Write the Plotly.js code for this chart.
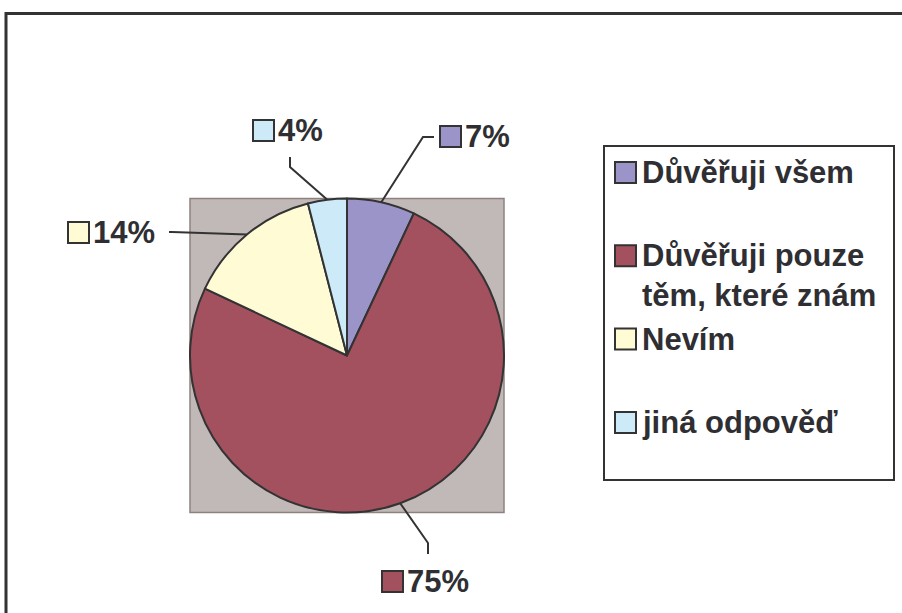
<!DOCTYPE html>
<html><head><meta charset="utf-8">
<script src="https://cdn.plot.ly/plotly-3.0.1.min.js"></script>
<style>html,body{margin:0;padding:0;background:#fff}#chart{width:902px;height:613px}</style>
</head><body><div id="chart"></div>
<script>
// ---- data ----
const categories = ["Důvěřuji všem", "Důvěřuji pouze těm, které znám", "Nevím", "jiná odpověď"];
const legendLabels = ["Důvěřuji všem", "Důvěřuji pouze<br>těm, které znám", "Nevím", "jiná odpověď"];
const values = [7, 75, 14, 4];
const percentLabels = values.map(v => v + "%");

// ---- style / layout ----
const colors = ["#9b94c8", "#a3505f", "#fffbd5", "#cdeaf8"];
const W = 902, H = 613;
const FONT = "Liberation Sans, Arial, Helvetica, sans-serif";
const TXT = "#2f2f33";
const FS = 31;
const px = x => x / W, py = y => 1 - y / H;
const pieBox = {x0: 190, x1: 504, y0: 198.5, y1: 512.5};
const cx = (pieBox.x0 + pieBox.x1) / 2, cy = (pieBox.y0 + pieBox.y1) / 2, r = (pieBox.x1 - pieBox.x0) / 2;

// label callout placement (square left x, text baseline y, leader knee & end)
const labelPlacement = [
  {sq: [440, 147], knee: [423, 137], end: [434, 137]},
  {sq: [382, 592], knee: [428, 543], end: [428, 554]},
  {sq: [68, 243],  knee: [172, 232], end: [169, 232]},
  {sq: [253, 141], knee: [290, 167], end: [290, 157]}
];
const SQ = 21;
const legendBox = {x0: 604, y0: 146, x1: 894, y1: 480};
const legendFirstBaseline = 183, legendStep = 83.3, legendSqX = 615, legendTextX = 642;

const shapes = [];
const annotations = [];

// outer frame (only top & left visible)
shapes.push({type: 'rect', xref: 'paper', yref: 'paper', x0: px(6), x1: px(915), y0: py(13.5), y1: py(630),
  line: {color: '#333333', width: 3}, fillcolor: 'rgba(0,0,0,0)', layer: 'below'});
// plot area behind pie
shapes.push({type: 'rect', xref: 'paper', yref: 'paper', x0: px(pieBox.x0), x1: px(pieBox.x1), y0: py(pieBox.y1), y1: py(pieBox.y0),
  line: {color: '#8e8280', width: 1.5}, fillcolor: '#c1b9b7', layer: 'below'});

// leader lines & data labels computed from slice angles
const total = values.reduce((a, b) => a + b, 0);
let cum = 0;
values.forEach((v, i) => {
  const mid = (cum + v / 2) / total * 2 * Math.PI;
  cum += v;
  const ex = cx + r * Math.sin(mid), ey = cy - r * Math.cos(mid);
  const p = labelPlacement[i];
  shapes.push({type: 'path', xref: 'paper', yref: 'paper', layer: 'above',
    path: `M${px(ex)},${py(ey)} L${px(p.knee[0])},${py(p.knee[1])} L${px(p.end[0])},${py(p.end[1])}`,
    line: {color: '#333333', width: 2}});
  shapes.push({type: 'rect', xref: 'paper', yref: 'paper', layer: 'above',
    x0: px(p.sq[0]), x1: px(p.sq[0] + SQ), y0: py(p.sq[1]), y1: py(p.sq[1] - SQ),
    fillcolor: colors[i], line: {color: '#333333', width: 2}});
  annotations.push({xref: 'paper', yref: 'paper', x: px(p.sq[0] + SQ + 4), y: py(p.sq[1] - 0.905 * FS),
    xanchor: 'left', yanchor: 'top', showarrow: false, borderpad: 0, borderwidth: 0,
    text: percentLabels[i], font: {family: FONT, size: FS, color: TXT, weight: 700}});
});

// custom legend
shapes.push({type: 'rect', xref: 'paper', yref: 'paper', x0: px(legendBox.x0), x1: px(legendBox.x1), y0: py(legendBox.y1), y1: py(legendBox.y0),
  line: {color: '#333333', width: 2}, fillcolor: '#ffffff', layer: 'below'});
legendLabels.forEach((lab, i) => {
  const base = legendFirstBaseline + i * legendStep;
  shapes.push({type: 'rect', xref: 'paper', yref: 'paper', layer: 'above',
    x0: px(legendSqX), x1: px(legendSqX + SQ), y0: py(base), y1: py(base - SQ),
    fillcolor: colors[i], line: {color: '#333333', width: 2}});
  annotations.push({xref: 'paper', yref: 'paper', x: px(legendTextX), y: py(base - 0.905 * FS),
    xanchor: 'left', yanchor: 'top', align: 'left', showarrow: false, borderpad: 0, borderwidth: 0,
    text: lab, font: {family: FONT, size: FS, color: TXT, weight: 700}});
});

const trace = {
  type: 'pie', values: values, labels: categories, sort: false, direction: 'clockwise', rotation: 0,
  marker: {colors: colors, line: {color: '#333333', width: 2}},
  textinfo: 'none', hoverinfo: 'label+percent', showlegend: false,
  domain: {x: [px(pieBox.x0), px(pieBox.x1)], y: [py(pieBox.y1), py(pieBox.y0)]}
};

Plotly.newPlot('chart', [trace], {
  width: W, height: H, margin: {l: 0, r: 0, t: 0, b: 0},
  paper_bgcolor: '#ffffff', showlegend: false,
  shapes: shapes, annotations: annotations,
  font: {family: FONT, color: TXT}
}, {displayModeBar: false, staticPlot: true});
</script></body></html>
